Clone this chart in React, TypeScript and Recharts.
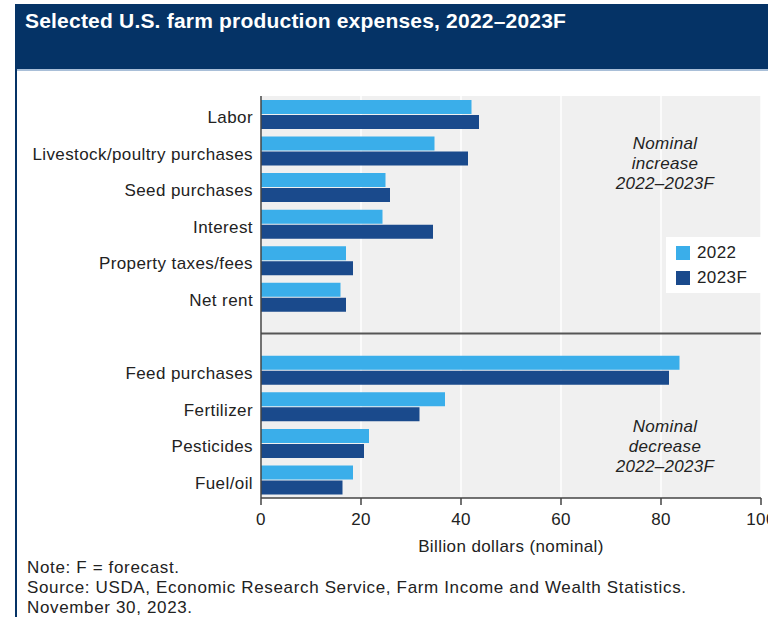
import { BarChart, Bar, XAxis, YAxis, CartesianGrid, ReferenceLine } from 'recharts'

const categories = [
  'Labor',
  'Livestock/poultry purchases',
  'Seed purchases',
  'Interest',
  'Property taxes/fees',
  'Net rent',
  ' ',
  'Feed purchases',
  'Fertilizer',
  'Pesticides',
  'Fuel/oil',
]
const values2022 = [42.1, 34.7, 24.9, 24.3, 17.0, 15.9, null, 83.7, 36.8, 21.6, 18.4]
const values2023F = [43.6, 41.4, 25.8, 34.4, 18.4, 17.0, null, 81.6, 31.7, 20.6, 16.3]
const xTicks = [0, 20, 40, 60, 80, 100]

const LIGHT = '#3aaeea'
const DARK = '#1a4a8c'
const NAVY = '#053366'
const FONT = '"Liberation Sans", Arial, sans-serif'
const TEXT = { fill: '#222', fontSize: 17, fontFamily: FONT, letterSpacing: 0.4 }

const data = categories.map((name, i) => ({
  name,
  y2022: values2022[i],
  y2023F: values2023F[i],
}))

// category labels sit a few px below the bar-pair centre in the original
function CategoryTick(props: any) {
  const { x, y, payload } = props
  return (
    <text x={x} y={y + 3} dy="0.355em" textAnchor="end" {...TEXT}>
      {payload.value}
    </text>
  )
}

function LegendBox() {
  const items = [
    { label: '2022', color: LIGHT },
    { label: '2023F', color: DARK },
  ]
  return (
    <div
      style={{
        position: 'absolute',
        left: 666,
        top: 237,
        background: '#fff',
        width: 95,
        height: 56,
        padding: '3px 0 0 10px',
        boxSizing: 'border-box',
      }}
    >
      {items.map((it) => (
        <div
          key={it.label}
          style={{ display: 'flex', alignItems: 'center', height: 25, fontSize: 17, letterSpacing: 0.4, color: '#222' }}
        >
          <div style={{ width: 14, height: 14, background: it.color, marginRight: 7 }} />
          {it.label}
        </div>
      ))}
    </div>
  )
}

const noteStyle: React.CSSProperties = {
  position: 'absolute',
  fontStyle: 'italic',
  fontSize: 17,
  letterSpacing: 0.3,
  color: '#222',
  textAlign: 'center',
  lineHeight: '20px',
  width: 160,
}

export default function App() {
  return (
    <div
      style={{
        position: 'absolute',
        left: 0,
        top: 0,
        width: 768,
        height: 617,
        overflow: 'hidden',
        background: '#fff',
        fontFamily: FONT,
      }}
    >
      {/* header band */}
      <div
        style={{
          position: 'absolute',
          left: 15,
          top: 4,
          width: 753,
          height: 65,
          background: NAVY,
          borderBottom: '2px solid #a9bfd8',
        }}
      />
      <div
        style={{
          position: 'absolute',
          left: 25,
          top: 9,
          color: '#fff',
          fontWeight: 'bold',
          fontSize: 21,
          letterSpacing: 0.2,
        }}
      >
        Selected U.S. farm production expenses, 2022–2023F
      </div>
      {/* left border */}
      <div style={{ position: 'absolute', left: 15, top: 69, width: 2, height: 548, background: NAVY }} />

      <div style={{ position: 'absolute', left: 0, top: 0 }}>
        <BarChart
          width={768}
          height={617}
          data={data}
          layout="vertical"
          margin={{ top: 96, right: 7, bottom: 0, left: 0 }}
          barSize={14}
          barGap={1}
        >
          <CartesianGrid fill="#f0f0f0" stroke="#ffffff" strokeWidth={1.5} horizontal={false} />
          <XAxis
            type="number"
            domain={[0, 100]}
            ticks={xTicks}
            interval={0}
            height={119}
            stroke="#444"
            strokeWidth={1.5}
            tickSize={7}
            tickMargin={8}
            tick={TEXT}
            label={{
              value: 'Billion dollars (nominal)',
              position: 'insideTop',
              offset: 42,
              ...TEXT,
            }}
          />
          <YAxis
            type="category"
            dataKey="name"
            width={261}
            stroke="#444"
            strokeWidth={1.5}
            tickLine={false}
            tickSize={0}
            tickMargin={8}
            interval={0}
            tick={<CategoryTick />}
          />
          <ReferenceLine y=" " stroke="#555" strokeWidth={2} />
          <Bar dataKey="y2022" name="2022" fill={LIGHT} isAnimationActive={false} />
          <Bar dataKey="y2023F" name="2023F" fill={DARK} isAnimationActive={false} />
        </BarChart>
      </div>

      <LegendBox />

      <div style={{ ...noteStyle, left: 585, top: 134 }}>
        Nominal
        <br />
        increase
        <br />
        2022–2023F
      </div>
      <div style={{ ...noteStyle, left: 585, top: 417 }}>
        Nominal
        <br />
        decrease
        <br />
        2022–2023F
      </div>

      <div
        style={{
          position: 'absolute',
          left: 27,
          top: 558,
          fontSize: 17,
          letterSpacing: 0.65,
          lineHeight: '20px',
          color: '#222',
        }}
      >
        Note: F = forecast.
        <br />
        Source: USDA, Economic Research Service, Farm Income and Wealth Statistics.
        <br />
        November 30, 2023.
      </div>
    </div>
  )
}
